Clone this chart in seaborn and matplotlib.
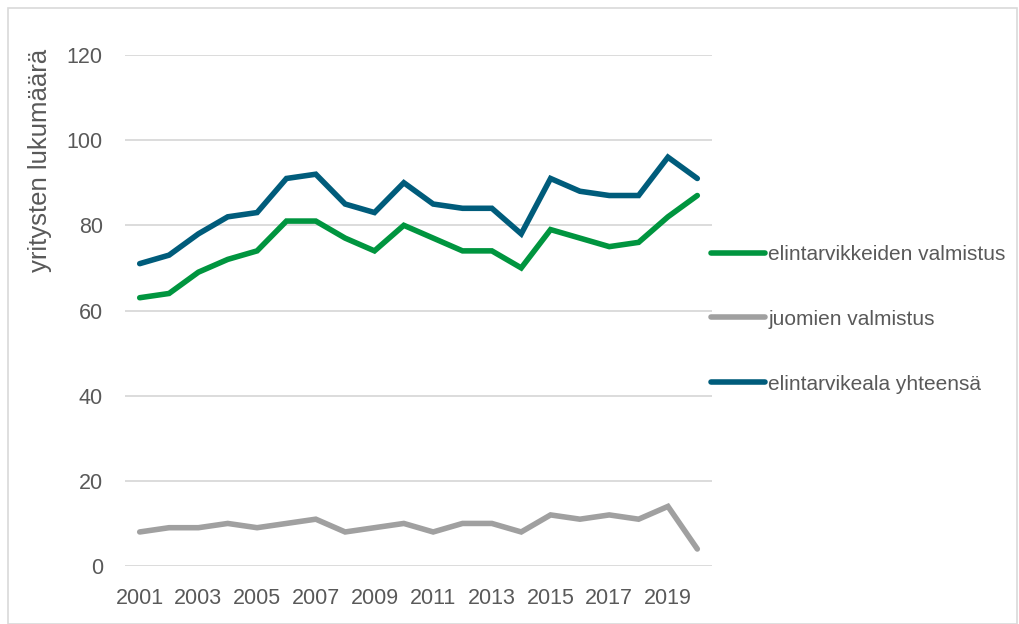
import matplotlib
matplotlib.use("Agg")
import matplotlib.pyplot as plt
import seaborn as sns
import pandas as pd
from matplotlib.patches import Rectangle

years = list(range(2001, 2021))
elintarvikkeet = [63, 64, 69, 72, 74, 81, 81, 77, 74, 80, 77, 74, 74, 70, 79, 77, 75, 76, 82, 87]
juomat = [8, 9, 9, 10, 9, 10, 11, 8, 9, 10, 8, 10, 10, 8, 12, 11, 12, 11, 14, 4]
yhteensa = [71, 73, 78, 82, 83, 91, 92, 85, 83, 90, 85, 84, 84, 78, 91, 88, 87, 87, 96, 91]
series_names = ["elintarvikkeiden valmistus", "juomien valmistus", "elintarvikeala yhteensä"]
colors = ["#00953F", "#A0A0A0", "#005C7B"]
y_ticks = [0, 20, 40, 60, 80, 100, 120]
x_ticks = list(range(2001, 2020, 2))

df = pd.concat([
    pd.DataFrame({"vuosi": years, "arvo": vals, "sarja": name})
    for name, vals in zip(series_names, [elintarvikkeet, juomat, yhteensa])
])

sns.set_theme(style="white")
plt.rcParams["font.family"] = ["Liberation Sans", "DejaVu Sans"]

fig = plt.figure(figsize=(10.19, 6.24), dpi=100)
ax = fig.add_axes([0.1227, 0.0929, 0.576, 0.819])

sns.lineplot(data=df, x="vuosi", y="arvo", hue="sarja", hue_order=series_names,
             palette=dict(zip(series_names, colors)), linewidth=4, ax=ax,
             solid_capstyle="round", solid_joinstyle="miter")

ax.set_xlim(2000.5, 2020.5)
ax.set_ylim(0, 120)
ax.set_yticks(y_ticks)
ax.set_xticks(x_ticks)
ax.set_xticklabels([str(x) for x in x_ticks])
ax.grid(axis="y", color="#D9D9D9", linewidth=1.3)
ax.set_axisbelow(True)
for s in ax.spines.values():
    s.set_visible(False)
ax.tick_params(axis="both", length=0, labelsize=15.5, labelcolor="#595959")
ax.tick_params(axis="y", pad=16)
ax.tick_params(axis="x", pad=16)
ax.set_xlabel("")
ax.set_ylabel("")
fig.text(40 / 1019, 1 - 160 / 624, "yritysten lukumäärä", rotation=90,
         ha="center", va="center", fontsize=18.5, color="#595959")

handles, labels = ax.get_legend_handles_labels()
ax.legend(handles, labels, loc="center left", bbox_to_anchor=(0.966, 0.483),
          frameon=False, fontsize=15, labelcolor="#595959", handlelength=2.6,
          handletextpad=0.15, labelspacing=2.2)

fig.patches.append(Rectangle((0.008, 0.0), 0.99, 0.987, transform=fig.transFigure,
                             fill=False, edgecolor="#D9D9D9", linewidth=1.2))

fig.savefig("out.png", dpi=100)
